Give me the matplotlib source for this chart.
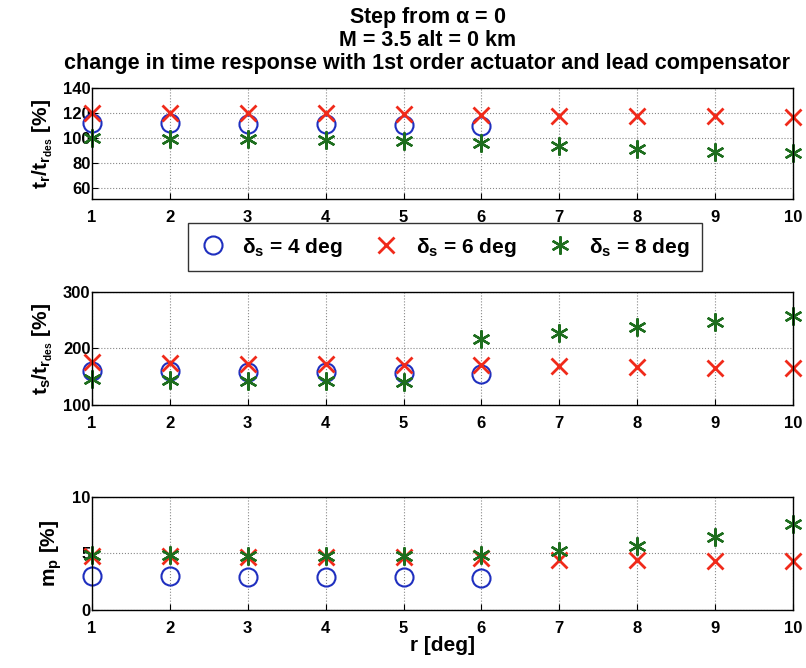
import numpy as np
import matplotlib
matplotlib.use("Agg")
import matplotlib.pyplot as plt

plt.rcParams['font.family'] = ['Liberation Sans', 'DejaVu Sans']
plt.rcParams['font.weight'] = 'bold'
plt.rcParams['mathtext.fontset'] = 'custom'
plt.rcParams['mathtext.rm'] = 'Liberation Sans:bold'
plt.rcParams['mathtext.it'] = 'Liberation Sans:bold'
plt.rcParams['mathtext.bf'] = 'Liberation Sans:bold'
plt.rcParams['mathtext.default'] = 'bf'

# data
r_deg = [1, 2, 3, 4, 5, 6, 7, 8, 9, 10]
r_deg_4 = [1, 2, 3, 4, 5, 6]

tr_4 = [112, 112, 111.5, 111, 110.5, 110]
tr_6 = [120, 120, 120, 120, 119, 118.5, 118, 118, 118, 117]
tr_8 = [100, 99.5, 99, 98.5, 98, 96, 93.5, 91.5, 89, 88]

ts_4 = [160, 160, 159, 158, 157, 155]
ts_6 = [175, 174, 173, 172, 171, 170, 168, 167, 166, 165]
ts_8 = [145, 144, 143, 142, 140, 217, 227, 238, 247, 258]

mp_4 = [3.0, 3.0, 2.95, 2.95, 2.9, 2.85]
mp_6 = [4.8, 4.75, 4.7, 4.7, 4.65, 4.6, 4.4, 4.4, 4.35, 4.3]
mp_8 = [4.9, 4.85, 4.8, 4.8, 4.75, 4.85, 5.2, 5.7, 6.5, 7.6]

labels = [r'$\delta_s$ = 4 deg', r'$\delta_s$ = 6 deg', r'$\delta_s$ = 8 deg']
title_lines = ['Step from $\\alpha$ = 0', 'M = 3.5 alt = 0 km',
               'change in time response with 1st order actuator and lead compensator']

fig = plt.figure(figsize=(8.06, 6.68), dpi=100)
ax1 = fig.add_axes([0.114, 0.702, 0.870, 0.166])
ax2 = fig.add_axes([0.114, 0.394, 0.870, 0.169])
ax3 = fig.add_axes([0.114, 0.087, 0.870, 0.169])

asterisk = (6, 2, 0)


def draw(ax, y4, y6, y8, ylim, yticks, ylabel):
    h1, = ax.plot(r_deg_4, y4, 'o', mfc='none', mec='#1f2fbf', ms=13, mew=1.5, clip_on=False)
    h2, = ax.plot(r_deg, y6, 'x', color='#f02a1a', ms=11, mew=2.0, clip_on=False)
    h3, = ax.plot(r_deg, y8, marker=asterisk, ls='none', color='#1e6e1e', ms=13, mew=1.7,
                  clip_on=False)
    ax.set_xlim(1, 10)
    ax.set_ylim(*ylim)
    ax.set_xticks(r_deg)
    ax.set_yticks(yticks)
    ax.grid(True, ls=':', color='#888888', lw=0.8)
    ax.tick_params(labelsize=12, direction='in', length=4)
    ax.tick_params(axis='x', pad=8)
    ax.tick_params(axis='y', pad=1)
    ax.set_ylabel(ylabel, fontsize=15, fontweight='bold', labelpad=6)
    for lab in ax.get_xticklabels() + ax.get_yticklabels():
        lab.set_fontweight('bold')
    for s in ax.spines.values():
        s.set_linewidth(1.0)
    return h1, h2, h3


handles = draw(ax1, tr_4, tr_6, tr_8, (51, 140), [60, 80, 100, 120, 140],
               r'$t_r/t_{r_{des}}$ [%]')
draw(ax2, ts_4, ts_6, ts_8, (100, 300), [100, 200, 300],
     r'$t_s/t_{r_{des}}$ [%]')
draw(ax3, mp_4, mp_6, mp_8, (0, 10), [0, 5, 10], r'$m_p$ [%]')
ax3.set_xlabel('r [deg]', fontsize=15, fontweight='bold', labelpad=0)

for i, line in enumerate(title_lines):
    fig.text(0.53, 1 - (18 + 22.5 * i) / 668, line, ha='center', va='center',
             fontsize=15.5, fontweight='bold')

fig.legend(handles, labels, loc='center', bbox_to_anchor=(0.552, 0.630), ncol=3,
           frameon=True, fancybox=False, edgecolor='black', fontsize=15,
           handlelength=1.2, handletextpad=0.8, columnspacing=1.5, borderpad=0.6)

fig.savefig('out.png', dpi=100)
